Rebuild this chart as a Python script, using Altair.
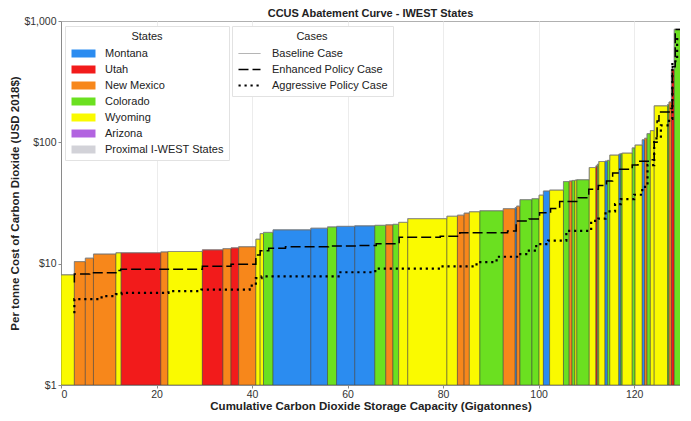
import altair as alt
import pandas as pd

# ---- Bars of the abatement curve (baseline case) ----
edges = [0, 2.8, 5.1, 6.8, 11.5, 12.6, 20.9, 22.4, 29.6, 33.9,
         35.6, 37.2, 40.8, 41.7, 42.4, 44.4, 52.3, 55.8, 57.7, 61.5,
         65.7, 68.0, 69.5, 70.7, 72.6, 80.8, 83.0, 84.4, 85.5, 87.7,
         92.6, 95.1, 95.4, 96.1, 98.6, 100.1, 101.0, 102.3, 105.2, 106.4,
         107.0, 107.6, 108.0, 110.6, 112.0, 112.3, 112.6, 113.9, 114.4, 114.9,
         116.8, 117.2, 117.5, 119.6, 120.2, 121.7, 122.2, 122.7, 123.4, 124.2,
         127.0, 127.3, 127.8, 128.4, 130.1, 130.8]
costs = [8.1, 10.4, 11.1, 12.0, 12.3, 12.3, 12.5, 12.6, 13.0, 13.3,
         13.5, 13.8, 15.9, 17.7, 18.1, 19.0, 19.6, 20.1, 20.3, 20.5,
         20.7, 20.9, 21.1, 21.9, 23.5, 24.6, 25.1, 26.1, 26.8, 27.3,
         28.4, 29.0, 29.8, 33.7, 34.3, 36.7, 39.7, 40.4, 47.5, 48.0,
         48.5, 48.8, 49.2, 62, 64, 66, 69.5, 70, 71, 78.5,
         80, 81, 81.5, 90, 95, 105, 108, 118, 125, 200,
         205, 215, 400, 855, 900]
states = ["Wyoming", "New Mexico", "New Mexico", "New Mexico", "Wyoming",
          "Utah", "New Mexico", "Wyoming", "Utah", "New Mexico",
          "Utah", "New Mexico", "Wyoming", "Wyoming", "Colorado",
          "Montana", "Montana", "Colorado", "Montana", "Montana",
          "Colorado", "New Mexico", "Colorado", "Wyoming", "Wyoming",
          "Wyoming", "New Mexico", "New Mexico", "Wyoming", "Colorado",
          "New Mexico", "Montana", "New Mexico", "Colorado", "Colorado",
          "Wyoming", "Montana", "Wyoming", "Colorado", "New Mexico",
          "Colorado", "Wyoming", "Colorado", "Wyoming", "Utah",
          "Colorado", "Wyoming", "Montana", "Colorado", "Wyoming",
          "Montana", "Colorado", "Wyoming", "Colorado", "Wyoming",
          "Montana", "New Mexico", "Colorado", "Wyoming", "Wyoming",
          "Colorado", "New Mexico", "Utah", "Colorado", "New Mexico"]

state_names = ["Montana", "Utah", "New Mexico", "Colorado", "Wyoming",
               "Arizona", "Proximal I-WEST States"]
state_colors = ["#2b8cf0", "#f21b1b", "#f7871b", "#6be020", "#fafa00",
                "#b264e0", "#d2d2d8"]

# ---- Policy case curves (step lines) ----
enh_x = [2.8, 2.8, 6.0, 11.5, 12.5, 29.6, 35.6, 40.8, 41.7, 43.5,
         47.0, 56.0, 62.0, 66.0, 70.8, 79.4, 83.5, 93.5, 95.3, 98.0,
         100.2, 102.5, 104.4, 108.3, 110.5, 112.5, 114.2, 115.5, 117.0, 119.6,
         120.8, 123.6, 124.2, 124.8, 125.2, 127.6, 128.0, 128.6, 130.2]
enh_y = [7.0, 8.2, 8.4, 8.8, 9.0, 9.5, 9.9, 11.8, 12.8, 13.4,
         13.8, 14.0, 14.1, 14.6, 16.5, 16.8, 18.0, 18.6, 22.5, 23.3,
         26.3, 28.5, 32.5, 35.0, 41.0, 44.0, 48.0, 56.0, 60.0, 65.0,
         70.0, 72.0, 100.0, 150.0, 178.0, 190.0, 420.0, 850.0, 850.0]

agg_x = [2.8, 2.8, 8.5, 11.5, 12.7, 22.5, 29.4, 39.5, 40.8, 42.0,
         58.5, 65.8, 79.4, 87.0, 91.2, 95.5, 97.4, 99.5, 102.0, 105.8,
         111.0, 112.5, 114.0, 116.0, 117.2, 120.0, 121.7, 122.8, 124.2, 125.6,
         127.3, 128.0, 129.0, 130.2]
agg_y = [3.9, 5.1, 5.4, 5.6, 5.75, 5.95, 6.1, 6.6, 7.6, 7.85,
         8.5, 9.1, 9.5, 10.3, 11.4, 12.0, 12.8, 14.5, 15.5, 18.6,
         22.5, 23.5, 27.0, 31.0, 34.0, 37.0, 43.0, 65.0, 108.0, 138.0,
         156.0, 466.0, 710.0, 710.0]

case_names = ["Baseline Case", "Enhanced Policy Case", "Aggressive Policy Case"]

x_ticks = [0, 20, 40, 60, 80, 100, 120]
y_ticks = [1, 10, 100, 1000]

# ---- tables ----
bars = pd.DataFrame({"x0": edges[:-1], "x1": edges[1:], "cost": costs,
                     "state": states})
bars["base"] = 1

base_x = edges[:-1] + [edges[-1]]
base_y = costs + [costs[-1]]
rows = []
for name, xs, ys in [(case_names[0], base_x, base_y),
                     (case_names[1], enh_x, enh_y),
                     (case_names[2], agg_x, agg_y)]:
    for i, (xv, yv) in enumerate(zip(xs, ys)):
        rows.append({"x": xv, "cost": yv, "case": name, "i": i})
lines = pd.DataFrame(rows)

FONT = "Liberation Sans"
x_scale = alt.Scale(domain=[0, 129.6], nice=False, zero=False)
y_scale = alt.Scale(type="log", domain=[1, 1000], nice=False)

rect = alt.Chart(bars).mark_rect(stroke="#3a3a3a", strokeWidth=0.5, clip=True).encode(
    x=alt.X("x0:Q", scale=x_scale,
            axis=alt.Axis(values=x_ticks, format="d",
                          title="Cumulative Carbon Dioxide Storage Capacity (Gigatonnes)",
                          grid=True, gridColor="#ececec")),
    x2="x1:Q",
    y=alt.Y("cost:Q", scale=y_scale,
            axis=alt.Axis(values=y_ticks, format="$,.0f",
                          title="Per tonne Cost of Carbon Dioxide (USD 2018$)",
                          grid=False)),
    y2="base:Q",
    fill=alt.Fill("state:N", scale=alt.Scale(domain=state_names, range=state_colors),
                  legend=alt.Legend(title="States", orient="none", legendX=4, legendY=5,
                                    titleAnchor="middle", symbolType="M-1,-1H5V1H-1Z",
                                    symbolSize=64, symbolStrokeWidth=0, labelOffset=24,
                                    rowPadding=4, titlePadding=6, padding=5,
                                    fillColor="white", strokeColor="#e2e2e2")),
)

case_legend = alt.Legend(title="Cases", orient="none", legendX=171, legendY=5,
                         titleAnchor="middle", symbolType="M-1,0H4.5", symbolSize=64,
                         labelOffset=24, rowPadding=4, titlePadding=6, padding=5,
                         fillColor="white", strokeColor="#e2e2e2")

line = alt.Chart(lines).mark_line(interpolate="step-after", clip=True).encode(
    x=alt.X("x:Q", scale=x_scale),
    y=alt.Y("cost:Q", scale=y_scale),
    stroke=alt.Stroke("case:N", scale=alt.Scale(domain=case_names,
                                                range=["#8a8a8a", "#000000", "#000000"]),
                      legend=case_legend, title="Cases"),
    strokeDash=alt.StrokeDash("case:N", scale=alt.Scale(domain=case_names,
                                                        range=[[1, 0], [10, 4], [2.2, 3.8]]),
                              title="Cases"),
    strokeWidth=alt.StrokeWidth("case:N", scale=alt.Scale(domain=case_names,
                                                          range=[0.8, 2.2, 2.4]),
                                title="Cases"),
    order="i:Q",
)

chart = alt.layer(rect, line).properties(
    width=619, height=364,
    title=alt.TitleParams("CCUS Abatement Curve - IWEST States", font=FONT,
                          fontSize=11, fontWeight="bold", color="#222", offset=-3,
                          frame="group"),
    padding={"left": 1, "right": 0, "top": 0, "bottom": 0},
).configure_view(stroke="#b0b0b0").configure_axis(
    labelFont=FONT, titleFont=FONT, labelFontSize=10.5, titleFontSize=11.5,
    titleFontWeight="bold", titleColor="#222", labelColor="#333",
    domainColor="#8a8a8a", tickColor="#8a8a8a", tickSize=3,
).configure_axisX(labelPadding=1, titlePadding=1).configure_axisY(
    labelPadding=2, titlePadding=3
).configure_legend(
    labelFont=FONT, titleFont=FONT, labelFontSize=11, titleFontSize=11,
    titleFontWeight="normal", labelColor="#222", titleColor="#222",
)

chart.save("out.html", embed_options={"renderer": "svg", "actions": False})
